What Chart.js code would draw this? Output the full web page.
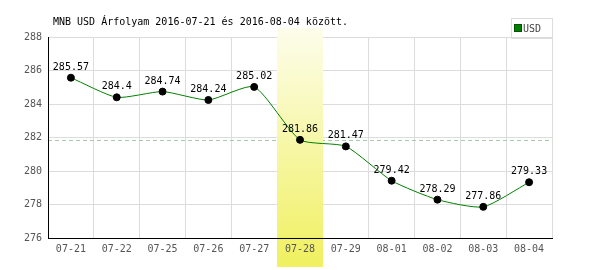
<!DOCTYPE html>
<html>
<head>
<meta charset="utf-8">
<script src="https://cdn.jsdelivr.net/npm/chart.js@4"></script>
<style>
  html, body { margin: 0; padding: 0; background: #fff; }
  #wrap { width: 600px; height: 270px; }
</style>
</head>
<body>
<div id="wrap"><canvas id="chart" width="600" height="270"></canvas></div>
<script>
// data
const labels = ['07-21', '07-22', '07-25', '07-26', '07-27', '07-28', '07-29', '08-01', '08-02', '08-03', '08-04'];
const rates = [285.57, 284.4, 284.74, 284.24, 285.02, 281.86, 281.47, 279.42, 278.29, 277.86, 279.33];
const highlightIndex = 5;
const titleText = 'MNB USD Árfolyam 2016-07-21 és 2016-08-04 között.';
const seriesName = 'USD';

const MONO = '"DejaVu Sans Mono", "Liberation Mono", monospace';

// draw title, legend box, highlight band, ref line, value labels
const extras = {
  id: 'extras',
  beforeDatasetsDraw(chart) {
    const ctx = chart.ctx;
    const area = chart.chartArea;
    const x = chart.scales.x;
    const y = chart.scales.y;

    // dashed line at highlighted day's value
    const yRef = Math.round(y.getPixelForValue(rates[highlightIndex])) + 0.5;
    ctx.save();
    ctx.strokeStyle = '#a8cca8';
    ctx.lineWidth = 1;
    ctx.setLineDash([4, 3]);
    ctx.beginPath();
    ctx.moveTo(area.left, yRef);
    ctx.lineTo(area.right, yRef);
    ctx.stroke();
    ctx.restore();

    // highlighted column
    const cw = (area.right - area.left) / labels.length;
    const cx = x.getPixelForValue(highlightIndex);
    const top = 28, bottom = 267;
    const grad = ctx.createLinearGradient(0, top, 0, bottom);
    grad.addColorStop(0, 'rgb(253,253,236)');
    grad.addColorStop(1, 'rgb(240,240,96)');
    ctx.save();
    ctx.fillStyle = grad;
    ctx.fillRect(Math.round(cx - cw / 2), top, Math.round(cw), bottom - top);
    ctx.restore();
  },
  afterDatasetsDraw(chart) {
    const ctx = chart.ctx;
    const meta = chart.getDatasetMeta(0);
    ctx.save();
    ctx.font = '10px ' + MONO;
    ctx.fillStyle = '#000';
    ctx.textAlign = 'center';
    ctx.textBaseline = 'middle';
    meta.data.forEach((pt, i) => {
      ctx.fillText(String(rates[i]), pt.x, pt.y - 10.5);
    });
    ctx.restore();
  },
  afterDraw(chart) {
    const ctx = chart.ctx;
    ctx.save();
    // title
    ctx.font = '10px ' + MONO;
    ctx.fillStyle = '#000';
    ctx.textAlign = 'left';
    ctx.textBaseline = 'middle';
    ctx.fillText(titleText, 53, 22);

    // legend box
    ctx.strokeStyle = '#dcdcdc';
    ctx.lineWidth = 1;
    ctx.strokeRect(511.5, 18.5, 41, 20);
    ctx.fillStyle = '#008000';
    ctx.fillRect(515, 25, 6, 6);
    ctx.strokeStyle = '#005000';
    ctx.strokeRect(514.5, 24.5, 7, 7);
    ctx.fillStyle = '#444';
    ctx.font = '10px ' + MONO;
    ctx.fillText(seriesName, 523, 29);
    ctx.restore();
  }
};

new Chart(document.getElementById('chart'), {
  type: 'line',
  data: {
    labels: labels,
    datasets: [{
      label: seriesName,
      data: rates,
      borderColor: '#008000',
      borderWidth: 1,
      tension: 0.2,
      pointRadius: 3.5,
      pointBackgroundColor: '#000',
      pointBorderColor: '#000',
      pointBorderWidth: 1,
      fill: false
    }]
  },
  options: {
    responsive: false,
    animation: false,
    devicePixelRatio: 1,
    layout: { padding: { top: 37, right: 48, left: 0, bottom: 0 } },
    plugins: {
      legend: { display: false },
      title: { display: false },
      tooltip: { enabled: false }
    },
    scales: {
      x: {
        offset: true,
        grid: { offset: true, color: '#dcdcdc', drawTicks: false },
        border: { color: '#000', width: 1, z: 1 },
        ticks: {
          z: 1,
          padding: 5,
          color: '#555',
          font: { family: MONO, size: 10 },
          maxRotation: 0,
          autoSkip: false
        },
        afterFit(scale) { scale.height = 32; }
      },
      y: {
        min: 276,
        max: 288,
        grid: { color: '#dcdcdc', drawTicks: false },
        border: { color: '#000', width: 1, z: 1 },
        ticks: {
          stepSize: 2,
          padding: 6,
          color: '#555',
          font: { family: MONO, size: 10 }
        },
        afterFit(scale) { scale.width = 48; }
      }
    }
  },
  plugins: [extras]
});
</script>
</body>
</html>
